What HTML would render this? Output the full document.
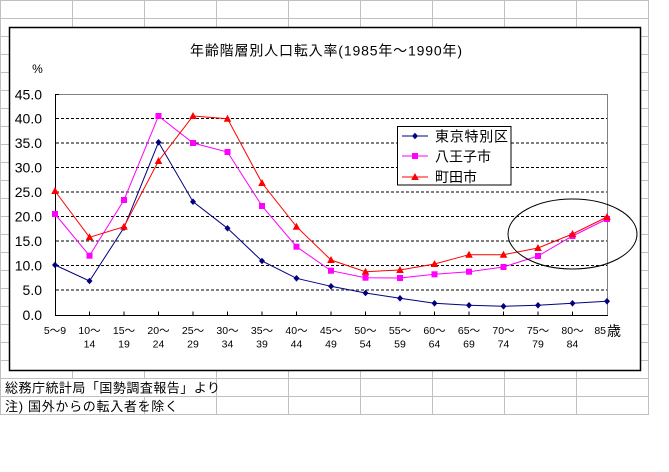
<!DOCTYPE html>
<html><head><meta charset="utf-8"><style>
html,body{margin:0;padding:0;background:#fff;}
svg{display:block;}
text{font-family:"Liberation Sans","Noto Sans CJK JP",sans-serif;fill:#000;}
</style></head><body>
<svg width="669" height="472" viewBox="0 0 669 472" xmlns="http://www.w3.org/2000/svg">
<rect width="669" height="472" fill="#fff"/>
<!-- spreadsheet grid -->
<g stroke="#c0c0c0" stroke-width="1">
<line x1="0.5" y1="0" x2="0.5" y2="414.5"/>
<line x1="72.5" y1="0" x2="72.5" y2="414.5"/>
<line x1="144.5" y1="0" x2="144.5" y2="414.5"/>
<line x1="216.5" y1="0" x2="216.5" y2="414.5"/>
<line x1="288.5" y1="0" x2="288.5" y2="414.5"/>
<line x1="360.5" y1="0" x2="360.5" y2="414.5"/>
<line x1="432.5" y1="0" x2="432.5" y2="414.5"/>
<line x1="504.5" y1="0" x2="504.5" y2="414.5"/>
<line x1="576.5" y1="0" x2="576.5" y2="414.5"/>
<line x1="648.5" y1="0" x2="648.5" y2="414.5"/>
<line x1="0" y1="0.5" x2="649" y2="0.5"/>
<line x1="0" y1="18.5" x2="649" y2="18.5"/>
<line x1="0" y1="36.5" x2="649" y2="36.5"/>
<line x1="0" y1="54.5" x2="649" y2="54.5"/>
<line x1="0" y1="72.5" x2="649" y2="72.5"/>
<line x1="0" y1="90.5" x2="649" y2="90.5"/>
<line x1="0" y1="108.5" x2="649" y2="108.5"/>
<line x1="0" y1="126.5" x2="649" y2="126.5"/>
<line x1="0" y1="144.5" x2="649" y2="144.5"/>
<line x1="0" y1="162.5" x2="649" y2="162.5"/>
<line x1="0" y1="180.5" x2="649" y2="180.5"/>
<line x1="0" y1="198.5" x2="649" y2="198.5"/>
<line x1="0" y1="216.5" x2="649" y2="216.5"/>
<line x1="0" y1="234.5" x2="649" y2="234.5"/>
<line x1="0" y1="252.5" x2="649" y2="252.5"/>
<line x1="0" y1="270.5" x2="649" y2="270.5"/>
<line x1="0" y1="288.5" x2="649" y2="288.5"/>
<line x1="0" y1="306.5" x2="649" y2="306.5"/>
<line x1="0" y1="324.5" x2="649" y2="324.5"/>
<line x1="0" y1="342.5" x2="649" y2="342.5"/>
<line x1="0" y1="360.5" x2="649" y2="360.5"/>
<line x1="0" y1="378.5" x2="649" y2="378.5"/>
<line x1="0" y1="396.5" x2="649" y2="396.5"/>
<line x1="0" y1="414.5" x2="649" y2="414.5"/>
</g>
<!-- chart area -->
<rect x="9.5" y="27.5" width="631" height="343" fill="#fff" stroke="#000" stroke-width="1.5"/>
<text x="190" y="55.5" font-size="14" textLength="272" lengthAdjust="spacing">年齢階層別人口転入率(1985年～1990年)</text>
<text x="37.5" y="73" font-size="12" text-anchor="middle">%</text>
<!-- dashed gridlines -->
<g stroke="#000" stroke-width="1" stroke-dasharray="3,2">
<line x1="56" y1="118.5" x2="607" y2="118.5"/>
<line x1="56" y1="143" x2="607" y2="143"/>
<line x1="56" y1="167.5" x2="607" y2="167.5"/>
<line x1="56" y1="192" x2="607" y2="192"/>
<line x1="56" y1="216.5" x2="607" y2="216.5"/>
<line x1="56" y1="241" x2="607" y2="241"/>
<line x1="56" y1="265.5" x2="607" y2="265.5"/>
<line x1="56" y1="290" x2="607" y2="290"/>
</g>
<!-- plot frame -->
<polyline points="55,94.5 607.5,94.5 607.5,315" fill="none" stroke="#808080" stroke-width="1"/>
<line x1="55.5" y1="94" x2="55.5" y2="315.5" stroke="#000" stroke-width="1"/>
<line x1="55" y1="315.5" x2="608" y2="315.5" stroke="#000" stroke-width="1"/>
<!-- y ticks -->
<g stroke="#000" stroke-width="1">
<line x1="55" y1="94.5" x2="59" y2="94.5"/>
<line x1="55" y1="118.5" x2="59" y2="118.5"/>
<line x1="55" y1="143" x2="59" y2="143"/>
<line x1="55" y1="167.5" x2="59" y2="167.5"/>
<line x1="55" y1="192" x2="59" y2="192"/>
<line x1="55" y1="216.5" x2="59" y2="216.5"/>
<line x1="55" y1="241" x2="59" y2="241"/>
<line x1="55" y1="265.5" x2="59" y2="265.5"/>
<line x1="55" y1="290" x2="59" y2="290"/>
<!-- x ticks -->
<line x1="89.5" y1="311.5" x2="89.5" y2="315"/>
<line x1="124" y1="311.5" x2="124" y2="315"/>
<line x1="158.5" y1="311.5" x2="158.5" y2="315"/>
<line x1="193" y1="311.5" x2="193" y2="315"/>
<line x1="227.5" y1="311.5" x2="227.5" y2="315"/>
<line x1="262" y1="311.5" x2="262" y2="315"/>
<line x1="296.5" y1="311.5" x2="296.5" y2="315"/>
<line x1="331" y1="311.5" x2="331" y2="315"/>
<line x1="365.5" y1="311.5" x2="365.5" y2="315"/>
<line x1="400" y1="311.5" x2="400" y2="315"/>
<line x1="434.5" y1="311.5" x2="434.5" y2="315"/>
<line x1="469" y1="311.5" x2="469" y2="315"/>
<line x1="503.5" y1="311.5" x2="503.5" y2="315"/>
<line x1="538" y1="311.5" x2="538" y2="315"/>
<line x1="572.5" y1="311.5" x2="572.5" y2="315"/>
</g>
<!-- y labels -->
<g font-size="14" text-anchor="end">
<text x="42" y="99.5">45.0</text>
<text x="42" y="123.5">40.0</text>
<text x="42" y="148">35.0</text>
<text x="42" y="172.5">30.0</text>
<text x="42" y="197">25.0</text>
<text x="42" y="221.5">20.0</text>
<text x="42" y="246">15.0</text>
<text x="42" y="270.5">10.0</text>
<text x="42" y="295">5.0</text>
<text x="42" y="320">0.0</text>
</g>
<!-- x labels -->
<g font-size="10.5" text-anchor="middle">
<text x="55" y="334">5～9</text>
<text x="89.5" y="334">10～</text>
<text x="124" y="334">15～</text>
<text x="158.5" y="334">20～</text>
<text x="193" y="334">25～</text>
<text x="227.5" y="334">30～</text>
<text x="262" y="334">35～</text>
<text x="296.5" y="334">40～</text>
<text x="331" y="334">45～</text>
<text x="365.5" y="334">50～</text>
<text x="400" y="334">55～</text>
<text x="434.5" y="334">60～</text>
<text x="469" y="334">65～</text>
<text x="503.5" y="334">70～</text>
<text x="538" y="334">75～</text>
<text x="572.5" y="334">80～</text>
<text x="89.5" y="347.5">14</text>
<text x="124" y="347.5">19</text>
<text x="158.5" y="347.5">24</text>
<text x="193" y="347.5">29</text>
<text x="227.5" y="347.5">34</text>
<text x="262" y="347.5">39</text>
<text x="296.5" y="347.5">44</text>
<text x="331" y="347.5">49</text>
<text x="365.5" y="347.5">54</text>
<text x="400" y="347.5">59</text>
<text x="434.5" y="347.5">64</text>
<text x="469" y="347.5">69</text>
<text x="503.5" y="347.5">74</text>
<text x="538" y="347.5">79</text>
<text x="572.5" y="347.5">84</text>
</g>
<text x="606" y="334" font-size="10.5" text-anchor="end">85</text>
<text x="607" y="336" font-size="14">歳</text>
<!-- series: Tokyo (navy diamonds) -->
<polyline fill="none" stroke="#000080" stroke-width="1" points="55,265 89.5,281 124,227.7 158.5,142.3 193,201.7 227.5,228.3 262,261 296.5,278.3 331,286.3 365.5,293 400,298.3 434.5,303.3 469,305.3 503.5,306.3 538,305.3 572.5,303.3 607,301.3"/>
<!-- Hachioji (magenta squares) -->
<polyline fill="none" stroke="#ff00ff" stroke-width="1" points="55,214 89.5,255.7 124,200 158.5,116 193,143 227.5,152 262,206 296.5,246.7 331,270.7 365.5,277.7 400,278 434.5,274.3 469,271.7 503.5,267 538,256 572.5,236 607,219"/>
<!-- Machida (red triangles) -->
<polyline fill="none" stroke="#ff0000" stroke-width="1" points="55,191 89.5,237.3 124,226.7 158.5,161 193,116 227.5,118.7 262,183 296.5,226.7 331,260 365.5,271.7 400,270 434.5,264 469,254.7 503.5,254.7 538,248 572.5,234 607,217"/>
<defs>
<path id="dm" d="M0,-3.3 L3,0 L0,3.3 L-3,0 Z" fill="#000080"/>
<rect id="sq" x="-3" y="-3" width="6" height="6" fill="#ff00ff"/>
<path id="tr" d="M0,-4 L3.8,3 L-3.8,3 Z" fill="#ff0000"/>
</defs>
<g>
<use href="#dm" x="55" y="265"/><use href="#dm" x="89.5" y="281"/><use href="#dm" x="124" y="227.7"/><use href="#dm" x="158.5" y="142.3"/><use href="#dm" x="193" y="201.7"/><use href="#dm" x="227.5" y="228.3"/><use href="#dm" x="262" y="261"/><use href="#dm" x="296.5" y="278.3"/><use href="#dm" x="331" y="286.3"/><use href="#dm" x="365.5" y="293"/><use href="#dm" x="400" y="298.3"/><use href="#dm" x="434.5" y="303.3"/><use href="#dm" x="469" y="305.3"/><use href="#dm" x="503.5" y="306.3"/><use href="#dm" x="538" y="305.3"/><use href="#dm" x="572.5" y="303.3"/><use href="#dm" x="607" y="301.3"/>
<use href="#sq" x="55" y="214"/><use href="#sq" x="89.5" y="255.7"/><use href="#sq" x="124" y="200"/><use href="#sq" x="158.5" y="116"/><use href="#sq" x="193" y="143"/><use href="#sq" x="227.5" y="152"/><use href="#sq" x="262" y="206"/><use href="#sq" x="296.5" y="246.7"/><use href="#sq" x="331" y="270.7"/><use href="#sq" x="365.5" y="277.7"/><use href="#sq" x="400" y="278"/><use href="#sq" x="434.5" y="274.3"/><use href="#sq" x="469" y="271.7"/><use href="#sq" x="503.5" y="267"/><use href="#sq" x="538" y="256"/><use href="#sq" x="572.5" y="236"/><use href="#sq" x="607" y="219"/>
<use href="#tr" x="55" y="191"/><use href="#tr" x="89.5" y="237.3"/><use href="#tr" x="124" y="226.7"/><use href="#tr" x="158.5" y="161"/><use href="#tr" x="193" y="116"/><use href="#tr" x="227.5" y="118.7"/><use href="#tr" x="262" y="183"/><use href="#tr" x="296.5" y="226.7"/><use href="#tr" x="331" y="260"/><use href="#tr" x="365.5" y="271.7"/><use href="#tr" x="400" y="270"/><use href="#tr" x="434.5" y="264"/><use href="#tr" x="469" y="254.7"/><use href="#tr" x="503.5" y="254.7"/><use href="#tr" x="538" y="248"/><use href="#tr" x="572.5" y="234"/><use href="#tr" x="607" y="217"/>
</g>
<!-- ellipse -->
<ellipse cx="572.5" cy="234" rx="64.5" ry="35" fill="none" stroke="#000" stroke-width="1"/>
<!-- legend -->
<rect x="397.5" y="126.5" width="113.5" height="58.5" fill="#fff" stroke="#000" stroke-width="1"/>
<line x1="402" y1="136" x2="428" y2="136" stroke="#000080" stroke-width="1"/>
<use href="#dm" x="415" y="136"/>
<line x1="402" y1="156" x2="428" y2="156" stroke="#ff00ff" stroke-width="1"/>
<use href="#sq" x="415" y="156"/>
<line x1="402" y1="177" x2="428" y2="177" stroke="#ff0000" stroke-width="1"/>
<use href="#tr" x="415" y="177"/>
<text x="435" y="141.5" font-size="14" textLength="73" lengthAdjust="spacing">東京特別区</text>
<text x="435" y="161.5" font-size="14">八王子市</text>
<text x="435" y="182" font-size="14">町田市</text>
<!-- footer notes -->
<rect x="1" y="379" width="215" height="17" fill="#fff"/>
<rect x="1" y="397" width="143" height="17" fill="#fff"/>
<text x="5" y="392.5" font-size="13" textLength="215" lengthAdjust="spacing">総務庁統計局「国勢調査報告」より</text>
<text x="5" y="411" font-size="13" textLength="173" lengthAdjust="spacing">注) 国外からの転入者を除く</text>
</svg>
</body></html>
